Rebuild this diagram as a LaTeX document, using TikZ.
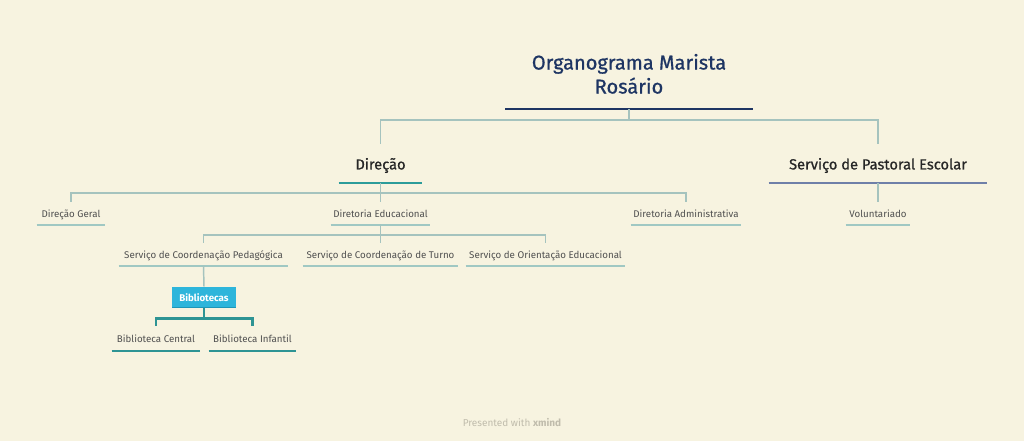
\documentclass[tikz,border=0pt]{standalone}
\usepackage{fontspec}
\setmainfont{Fira Sans}
\newfontfamily\medfont{Fira Sans}[FakeBold=0.8]
\usetikzlibrary{calc}
\definecolor{bg}{RGB}{247,243,224}
\definecolor{navy}{RGB}{30,53,99}
\definecolor{conn}{RGB}{165,195,190}
\definecolor{tealA}{RGB}{44,156,154}
\definecolor{slate}{RGB}{111,127,168}
\definecolor{subline}{RGB}{160,200,195}
\definecolor{bibline}{RGB}{46,148,148}
\definecolor{bibfill}{RGB}{45,181,219}
\definecolor{bibedge}{RGB}{29,150,184}
\definecolor{maintext}{RGB}{38,38,38}
\definecolor{subtext}{RGB}{80,80,80}
\definecolor{foot}{RGB}{192,188,172}
\tikzset{
  topic/.style={inner sep=0pt, anchor=south, align=center, text depth=0pt},
  titletext/.style={topic, text=navy, font=\medfont\fontsize{15}{18}\selectfont},
  maintopic/.style={topic, text=maintext, font=\medfont\fontsize{11}{13}\selectfont, minimum height=28.5pt},
  subtopic/.style={topic, text=subtext, font=\fontsize{7.3}{9}\selectfont, minimum height=16.5pt},
  leaftopic/.style={topic, text=subtext, font=\fontsize{7.3}{9}\selectfont, minimum height=18pt},
  connline/.style={draw=conn, line width=1.1pt},
  bibconn/.style={draw=bibline, line width=1.9pt},
  uline/.style={line width=1.1pt, draw=subline}
}
\begin{document}
\begin{tikzpicture}[x=0.75pt,y=-0.75pt]
\fill[bg] (0,0) rectangle (1024,441);
\useasboundingbox (0,0) rectangle (1024,441);

% nodes
\node[titletext, minimum width=185.25pt, minimum height=52.5pt] (title) at (629,109) {Organograma Marista\\Rosário};
\node[maintopic, minimum width=62.25pt] (dir) at (380.5,183) {Direção};
\node[maintopic, minimum width=163.5pt] (pas) at (878,183) {Serviço de Pastoral Escolar};
\node[subtopic, minimum width=51pt] (dg) at (71,225) {Direção Geral};
\node[subtopic, minimum width=74.25pt] (de) at (380.5,225) {Diretoria Educacional};
\node[subtopic, minimum width=82.5pt] (da) at (686,225) {Diretoria Administrativa};
\node[subtopic, minimum width=48pt] (vol) at (878,225) {Voluntariado};
\node[subtopic, minimum width=126.75pt] (scp) at (203.5,266) {Serviço de Coordenação Pedagógica};
\node[subtopic, minimum width=116.25pt] (sct) at (380.5,266) {Serviço de Coordenação de Turno};
\node[subtopic, minimum width=119.25pt] (soe) at (545.5,266) {Serviço de Orientação Educacional};
\node[fill=bibfill, text=white, inner sep=0pt, minimum width=48pt, minimum height=15.75pt,
      font=\fontsize{7.3}{8}\selectfont\bfseries] (bib) at (204,297.5) {Bibliotecas};
\node[leaftopic, minimum width=66pt] (bc) at (156,351) {Biblioteca Central};
\node[leaftopic, minimum width=65.25pt] (bi) at (252.5,351) {Biblioteca Infantil};

% bottom edge of Bibliotecas box
\draw[bibedge, line width=1.2pt] ($(bib.south west)+(0.6,-0.6)$) -- ($(bib.south east)+(-0.6,-0.6)$);

% underlines
\draw[navy, line width=2.2pt] (title.south west) -- (title.south east);
\draw[tealA, line width=1.9pt] (dir.south west) -- (dir.south east);
\draw[slate, line width=1.9pt] (pas.south west) -- (pas.south east);
\foreach \n in {dg,de,da,vol,scp,sct,soe}{
  \draw[uline] (\n.south west) -- (\n.south east);
}
\draw[bibline, line width=1.9pt] (bc.south west) -- (bc.south east);
\draw[bibline, line width=1.9pt] (bi.south west) -- (bi.south east);

% connectors
\coordinate (j0) at ($(title.south)+(0,11)$);
\draw[connline] (title.south) -- (j0) -| (dir.north);
\draw[connline] (j0) -| (pas.north);
\coordinate (j1) at ($(dir.south)+(0,10)$);
\draw[connline] (dir.south) -- (j1) -| (dg.north);
\draw[connline] (j1) -| (da.north);
\draw[connline] (j1) -- (de.north);
\draw[connline] (pas.south) -- (vol.north);
\coordinate (j2) at ($(de.south)+(0,10)$);
\draw[connline] (de.south) -- (j2) -| (scp.north);
\draw[connline] (j2) -| (soe.north);
\draw[connline] (j2) -- (sct.north);
\draw[connline] (scp.south) -- (bib.north);
\coordinate (j3) at ($(bib.south)+(0,10)$);
\draw[bibconn] (bib.south) -- (j3) -| (bc.north);
\draw[bibconn] (j3) -| (bi.north);

% footer
\node[text=foot, font=\fontsize{7.5}{9}\selectfont, inner sep=0pt] (footer) at (512,423) {Presented with \textbf{xmind}};
\end{tikzpicture}
\end{document}
